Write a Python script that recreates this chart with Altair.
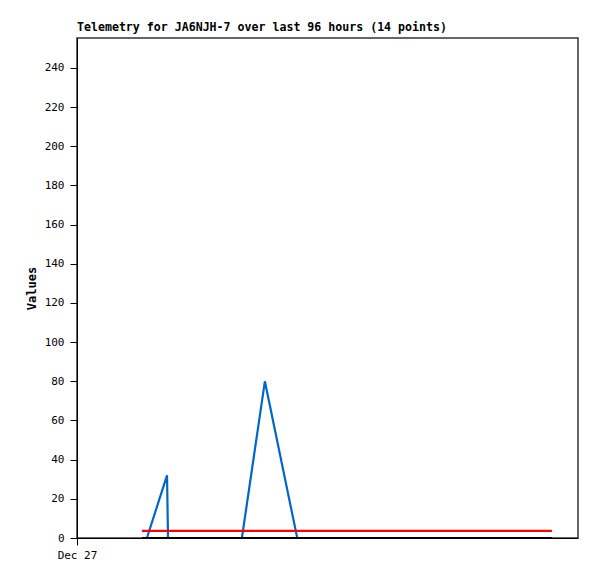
import altair as alt
import pandas as pd

# hours since Dec 27 00:00
hours = [12.45, 13.4, 17.25, 17.44, 23.6, 31.6, 36.0, 42.2, 52.3, 61.9, 71.5, 81.1, 86.8, 91.0]
blue_vals = [0, 0, 32, 0, 0, 0, 80, 0, 0, 0, 0, 0, 0, 0]
red_vals = [3.6] * 14
black_vals = [0] * 14

series_names = ["blue", "red", "black"]
series_colors = ["#0066cc", "#ff0000", "#000000"]

rows = []
for name, vals in zip(series_names, [blue_vals, red_vals, black_vals]):
    for i, (h, v) in enumerate(zip(hours, vals)):
        rows.append({"hour": h, "value": v, "series": name, "order": i})
df = pd.DataFrame(rows)

FONT = "DejaVu Sans Mono"

x = alt.X("hour:Q", scale=alt.Scale(domain=[0, 96], nice=False),
          axis=alt.Axis(values=[0], labelExpr="'Dec 27'", title=None, grid=False,
                        tickSize=7, labelPadding=4, labelFont=FONT, labelFontSize=11,
                        labelColor="black", domainColor="black", tickColor="black",
                        labelAlign="center"))
y = alt.Y("value:Q", scale=alt.Scale(domain=[0, 255.3], nice=False),
          axis=alt.Axis(values=list(range(0, 241, 20)), title="Values", grid=False,
                        tickSize=7, labelPadding=6, labelFont=FONT, labelFontSize=11,
                        labelColor="black", titleFont=FONT, titleFontSize=12,
                        titleFontWeight="bold", titleColor="black", titlePadding=6,
                        domainColor="black", tickColor="black"))

layers = []
for name, col in zip(series_names, series_colors):
    layers.append(
        alt.Chart(df[df.series == name]).mark_line(color=col, strokeWidth=2.2, interpolate="linear")
        .encode(x=x, y=y, order="order:Q")
    )

chart = alt.layer(*layers).properties(
    width=501, height=500,
    title=alt.Title("Telemetry for JA6NJH-7 over last 96 hours (14 points)", anchor="start",
                    frame="group", font=FONT, fontSize=11.6, fontWeight="bold",
                    color="black", offset=4),
    autosize=alt.AutoSizeParams(type="none"),
    padding={"left": 69, "top": 30, "right": 10, "bottom": 30},
).configure(
    background="white",
    view=alt.ViewConfig(stroke="#333333", strokeWidth=1.5),
)

chart.save("out.html", embed_options={"renderer": "svg", "actions": False})
